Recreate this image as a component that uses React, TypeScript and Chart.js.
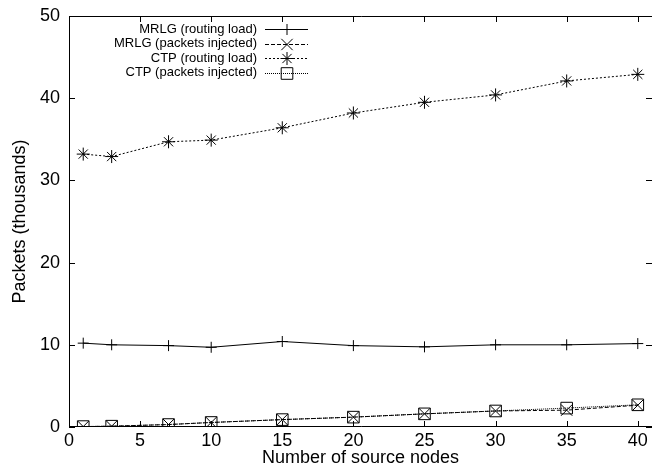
import React, { useEffect, useRef } from 'react';
import { Chart, registerables } from 'chart.js';
import { drawPoint } from 'chart.js/helpers';

Chart.register(...registerables);

const xValues = [1, 3, 7, 10, 15, 20, 25, 30, 35, 40];
const mrlgRouting = [10.2, 10.0, 9.9, 9.7, 10.4, 9.9, 9.75, 10.0, 10.0, 10.15];
const mrlgInjected = [0.05, 0.1, 0.3, 0.55, 0.9, 1.2, 1.6, 1.95, 2.05, 2.65];
const ctpRouting = [33.2, 32.9, 34.7, 34.9, 36.4, 38.2, 39.5, 40.4, 42.1, 42.9];
const ctpInjected = [0.05, 0.1, 0.3, 0.55, 0.9, 1.2, 1.6, 1.95, 2.3, 2.7];

const seriesLabels = [
  'MRLG (routing load)',
  'MRLG (packets injected)',
  'CTP (routing load)',
  'CTP (packets injected)',
];
const xTicks = [0, 5, 10, 15, 20, 25, 30, 35, 40];
const yTicks = [0, 10, 20, 30, 40, 50];
const xTitle = 'Number of source nodes';
const yTitle = 'Packets (thousands)';

const FONT = '"Liberation Sans", Arial, Helvetica, sans-serif';

const framePlugin = {
  id: 'frameAndLegend',
  afterDraw(chart: any) {
    const { ctx, chartArea } = chart;
    const { left, right, top, bottom } = chartArea;
    const xs = chart.scales.x;
    const ys = chart.scales.y;
    ctx.save();
    ctx.strokeStyle = '#000';
    ctx.lineWidth = 1;
    ctx.setLineDash([]);
    // frame: the right border falls just past the visible picture
    ctx.beginPath();
    ctx.moveTo(right + 2, top + 0.5);
    ctx.lineTo(left + 0.5, top + 0.5);
    ctx.lineTo(left + 0.5, bottom - 0.5);
    ctx.lineTo(right + 2, bottom - 0.5);
    ctx.stroke();
    const tl = 6;
    ctx.beginPath();
    xTicks.forEach((v) => {
      const px = Math.round(xs.getPixelForValue(v)) + 0.5;
      ctx.moveTo(px, bottom);
      ctx.lineTo(px, bottom - tl);
      ctx.moveTo(px, top);
      ctx.lineTo(px, top + tl);
    });
    yTicks.forEach((v) => {
      const py = Math.round(ys.getPixelForValue(v)) + 0.5;
      ctx.moveTo(left, py);
      ctx.lineTo(left + tl, py);
      ctx.moveTo(right, py);
      ctx.lineTo(right - tl, py);
    });
    ctx.stroke();

    // legend
    const rowY = [29, 43.5, 58, 72.5];
    chart.data.datasets.forEach((ds: any, i: number) => {
      const y = Math.round(rowY[i]) + 0.5;
      ctx.font = `13px ${FONT}`;
      ctx.fillStyle = '#000';
      ctx.textAlign = 'right';
      ctx.textBaseline = 'middle';
      ctx.fillText(seriesLabels[i], 257, rowY[i]);
      ctx.beginPath();
      ctx.setLineDash(ds.borderDash || []);
      ctx.lineWidth = 1;
      ctx.strokeStyle = '#000';
      ctx.moveTo(265, y);
      ctx.lineTo(308, y);
      ctx.stroke();
      ctx.setLineDash([]);
      ctx.fillStyle = 'rgba(0,0,0,0)';
      ctx.strokeStyle = '#000';
      ctx.lineWidth = 1;
      drawPoint(
        ctx,
        { pointStyle: ds.pointStyle, radius: ds.pointRadius, rotation: 0, borderWidth: 1 } as any,
        287,
        y
      );
    });
    ctx.restore();
  },
};

export default function App() {
  const ref = useRef<HTMLCanvasElement>(null);
  useEffect(() => {
    const canvas = ref.current!;
    const mk = (arr: number[]) => xValues.map((x, i) => ({ x, y: arr[i] }));
    const common = {
      borderColor: '#000',
      borderWidth: 1,
      pointBorderColor: '#000',
      pointBackgroundColor: 'rgba(0,0,0,0)',
      pointBorderWidth: 1,
      tension: 0,
      fill: false,
    };
    const chart = new Chart(canvas, {
      type: 'line',
      data: {
        datasets: [
          { ...common, label: seriesLabels[0], data: mk(mrlgRouting), borderDash: [], pointStyle: 'cross', pointRadius: 5.5 },
          { ...common, label: seriesLabels[1], data: mk(mrlgInjected), borderDash: [4, 2], pointStyle: 'crossRot', pointRadius: 8 },
          { ...common, label: seriesLabels[2], data: mk(ctpRouting), borderDash: [2, 2], pointStyle: 'star', pointRadius: 6.5 },
          { ...common, label: seriesLabels[3], data: mk(ctpInjected), borderDash: [1, 1], pointStyle: 'rect', pointRadius: 8.2 },
        ] as any,
      },
      options: {
        responsive: false,
        devicePixelRatio: 1,
        animation: false,
        layout: { autoPadding: false, padding: { top: 16, right: 0, left: 0, bottom: 0 } },
        plugins: { legend: { display: false }, tooltip: { enabled: false } },
        events: [],
        scales: {
          x: {
            type: 'linear',
            min: 0,
            max: 41,
            afterBuildTicks: (s: any) => {
              s.ticks = xTicks.map((v) => ({ value: v }));
            },
            afterFit: (s: any) => {
              s.height = 43;
              s.paddingLeft = 0;
              s.paddingRight = 0;
            },
            grid: { display: false, drawTicks: false },
            border: { display: false },
            ticks: { color: '#000', font: { family: FONT, size: 18 }, padding: 3, maxRotation: 0 },
            title: {
              display: true,
              text: xTitle,
              color: '#000',
              font: { family: FONT, size: 18 },
              padding: { top: 0, bottom: 1 },
            },
          },
          y: {
            type: 'linear',
            min: 0,
            max: 50,
            afterBuildTicks: (s: any) => {
              s.ticks = yTicks.map((v) => ({ value: v }));
            },
            afterFit: (s: any) => {
              s.width = 69;
              s.paddingTop = 0;
              s.paddingBottom = 0;
            },
            grid: { display: false, drawTicks: false },
            border: { display: false },
            ticks: { color: '#000', font: { family: FONT, size: 18 }, padding: 9 },
            title: {
              display: true,
              text: yTitle,
              color: '#000',
              font: { family: FONT, size: 18 },
              padding: { top: 9, bottom: 0 },
            },
          },
        },
      } as any,
      plugins: [framePlugin],
    });
    return () => chart.destroy();
  }, []);
  return (
    <div style={{ position: 'absolute', left: 0, top: 0, width: 652, height: 470 }}>
      <canvas ref={ref} width={652} height={470} style={{ display: 'block', width: 652, height: 470 }} />
    </div>
  );
}
